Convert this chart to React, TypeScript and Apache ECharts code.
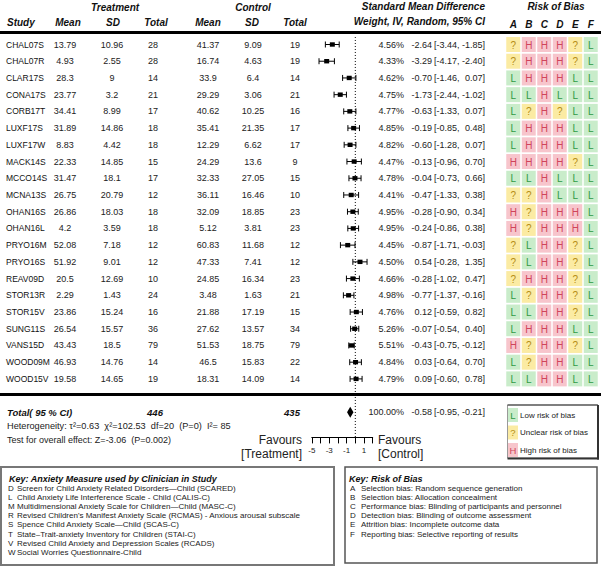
import React, { useEffect, useRef } from 'react';
import * as echarts from 'echarts';

const studies = ['CHAL07S','CHAL07R','CLAR17S','CONA17S','CORB17T','LUXF17S','LUXF17W','MACK14S','MCCO14S','MCNA13S','OHAN16S','OHAN16L','PRYO16M','PRYO16S','REAV09D','STOR13R','STOR15V','SUNG11S','VANS15D','WOOD09M','WOOD15V'];
const treatMean = [13.79,4.93,28.3,23.77,34.41,31.89,8.83,22.33,31.47,26.75,26.86,4.2,52.08,51.92,20.5,2.29,23.86,26.54,43.43,46.93,19.58];
const treatSD = [10.96,2.55,9,3.2,8.99,14.86,4.42,14.85,18.1,20.79,18.03,3.59,7.18,9.01,12.69,1.43,15.24,15.57,18.5,14.76,14.65];
const treatN = [28,28,14,21,17,18,18,15,17,12,18,18,12,12,10,24,16,36,79,14,19];
const ctrlMean = [41.37,16.74,33.9,29.29,40.62,35.41,12.29,24.29,32.33,36.11,32.09,5.12,60.83,47.33,24.85,3.48,21.88,27.62,51.53,46.5,18.31];
const ctrlSD = [9.09,4.63,6.4,3.06,10.25,21.35,6.62,13.6,27.05,16.46,18.85,3.81,11.68,7.41,16.34,1.63,17.19,13.57,18.75,15.83,14.09];
const ctrlN = [19,19,14,21,16,17,17,9,15,10,23,23,12,12,23,21,15,34,79,22,14];
const weights = [4.56,4.33,4.62,4.75,4.77,4.85,4.82,4.47,4.78,4.41,4.95,4.95,4.45,4.50,4.66,4.98,4.76,5.26,5.51,4.84,4.79];
const smd = [-2.64,-3.29,-0.70,-1.73,-0.63,-0.19,-0.60,-0.13,-0.04,-0.47,-0.28,-0.24,-0.87,0.54,-0.28,-0.77,0.12,-0.07,-0.43,0.03,0.09];
const ciLow = [-3.44,-4.17,-1.46,-2.44,-1.33,-0.85,-1.28,-0.96,-0.73,-1.33,-0.90,-0.86,-1.71,-0.28,-1.02,-1.37,-0.59,-0.54,-0.75,-0.64,-0.60];
const ciHigh = [-1.85,-2.40,0.07,-1.02,0.07,0.48,0.07,0.70,0.66,0.38,0.34,0.38,-0.03,1.35,0.47,-0.16,0.82,0.40,-0.12,0.70,0.78];
const riskOfBias = ['?HHH?L','?HHH?L','LHHHLL','LLHLLL','L?H?LL','LHHHLL','LHHHLL','HHHH?L','LLHLLL','??HLLL','H?HHHL','H?HHHL','?LHH?L','?LHH?L','?HHH?L','L?HH?L','LLHH?L','LHHHLL','H?HH?L','L?HHLL','LLHHLL'];
const biasDomains = ['A','B','C','D','E','F'];
const riskCodes = ['L','?','H'];
const riskLabels = ['Low risk of bias','Unclear risk of bias','High risk of bias'];
const totalTreatN = 446;
const totalCtrlN = 435;
const totalWeight = 100;
const pooledEst = -0.58;
const pooledLow = -0.95;
const pooledHigh = -0.21;
const heterogeneityText = 'Heterogeneity: τ²=0.63  χ²=102.53  df=20  (P=0)  I²= 85';
const overallText = 'Test for overall effect: Z=-3.06  (P=0.002)';
const anxietyKeyLetters = ['D','L','M','R','S','T','V','W'];
const anxietyKey = [
  'Screen for Child Anxiety Related Disorders—Child (SCARED)',
  'Child Anxiety Life Interference Scale - Child (CALIS-C)',
  'Multidimensional Anxiety Scale for Children—Child (MASC-C)',
  "Revised Children's Manifest Anxiety Scale (RCMAS) - Anxious arousal subscale",
  'Spence Child Anxiety Scale—Child (SCAS-C)',
  'State–Trait-anxiety Inventory for Children (STAI-C)',
  'Revised Child Anxiety and Depression Scales (RCADS)',
  'Social Worries Questionnaire-Child',
];
const biasKey = [
  'Selection bias: Random sequence generation',
  'Selection bias: Allocation concealment',
  'Performance bias: Blinding of participants and personnel',
  'Detection bias: Blinding of outcome assessment',
  'Attrition bias: Incomplete outcome data',
  'Reporting bias: Selective reporting of results',
];

const FONT = '"Liberation Sans", Arial, Helvetica, sans-serif';
const ROW0 = 44.5;
const ROWH = 16.72;
const YMIN = -0.45;
const YMAX = 23.5;
const TOTAL_ROW = 22;
const rowY = (i: number) => ROW0 + i * ROWH;
const GRID_TOP = ROW0 + YMIN * ROWH;
const GRID_H = (YMAX - YMIN) * ROWH;

const riskBg: Record<string, string> = { L: '#c9ecca', '?': '#fbeba3', H: '#f7c5cc' };
const riskFg: Record<string, string> = { L: '#2f9a44', '?': '#b48d14', H: '#d0445b' };

function txt(x: number, y: number, text: string, o: any = {}) {
  const align = o.align || 'left';
  const valign = o.valign || 'middle';
  return {
    type: 'text', x, y, silent: true,
    style: {
      text, fontFamily: FONT, fontSize: o.size || 9, fill: o.color || '#222',
      fontWeight: o.bold ? 'bold' : 'normal', fontStyle: o.italic ? 'italic' : 'normal',
      align, textAlign: align, verticalAlign: valign, textVerticalAlign: valign,
    },
  };
}
function hline(x1: number, x2: number, y: number, w: number, c = '#000') {
  return { type: 'line', silent: true, shape: { x1, y1: y, x2, y2: y }, style: { stroke: c, lineWidth: w } };
}
function vline(x: number, y1: number, y2: number, w: number, c = '#000') {
  return { type: 'line', silent: true, shape: { x1: x, y1, x2: x, y2 }, style: { stroke: c, lineWidth: w } };
}

function buildGraphics() {
  const g: any[] = [];
  const hb = { bold: true, italic: true, size: 10, color: '#111' };
  // headers
  g.push(txt(115, 7, 'Treatment', { ...hb, align: 'center' }));
  g.push(txt(253, 7, 'Control', { ...hb, align: 'center' }));
  g.push(txt(485, 6, 'Standard Mean Difference', { ...hb, align: 'right' }));
  g.push(txt(556, 6, 'Risk of Bias', { ...hb, align: 'center' }));
  g.push(txt(7, 22, 'Study', hb));
  g.push(txt(68, 22, 'Mean', { ...hb, align: 'center' }));
  g.push(txt(113, 22, 'SD', { ...hb, align: 'center' }));
  g.push(txt(156, 22, 'Total', { ...hb, align: 'center' }));
  g.push(txt(208, 22, 'Mean', { ...hb, align: 'center' }));
  g.push(txt(252, 22, 'SD', { ...hb, align: 'center' }));
  g.push(txt(295, 22, 'Total', { ...hb, align: 'center' }));
  g.push(txt(485, 21, 'Weight, IV, Random, 95% CI', { ...hb, align: 'right' }));
  g.push(hline(0, 601, 32.5, 3));
  g.push(hline(0, 601, 394.5, 3));
  // rows
  studies.forEach((s, i) => {
    const y = rowY(i);
    g.push(txt(6, y, s, { color: '#111', size: 8.5 }));
    g.push(txt(65, y, String(treatMean[i]), { align: 'center' }));
    g.push(txt(112, y, String(treatSD[i]), { align: 'center' }));
    g.push(txt(153, y, String(treatN[i]), { align: 'center' }));
    g.push(txt(208, y, String(ctrlMean[i]), { align: 'center' }));
    g.push(txt(253, y, String(ctrlSD[i]), { align: 'center' }));
    g.push(txt(295, y, String(ctrlN[i]), { align: 'center' }));
    g.push(txt(404, y, weights[i].toFixed(2) + '%', { align: 'right' }));
    g.push(txt(432, y, smd[i].toFixed(2), { align: 'right' }));
    g.push(txt(434, y, '[' + ciLow[i].toFixed(2) + ',', {}));
    g.push(txt(485, y, ciHigh[i].toFixed(2) + ']', { align: 'right' }));
  });
  // total row
  const ty = rowY(TOTAL_ROW);
  g.push(txt(7, ty, 'Total( 95 % CI)', { bold: true, italic: true, size: 9.5, color: '#111' }));
  g.push(txt(155, ty, String(totalTreatN), { bold: true, italic: true, size: 9.5, color: '#111', align: 'center' }));
  g.push(txt(292, ty, String(totalCtrlN), { bold: true, italic: true, size: 9.5, color: '#111', align: 'center' }));
  g.push(txt(404, ty, totalWeight.toFixed(2) + '%', { align: 'right' }));
  g.push(txt(432, ty, pooledEst.toFixed(2), { align: 'right' }));
  g.push(txt(434, ty, '[' + pooledLow.toFixed(2) + ',', {}));
  g.push(txt(485, ty, pooledHigh.toFixed(2) + ']', { align: 'right' }));
  g.push(txt(7, 426, heterogeneityText, { size: 9.2 }));
  g.push(txt(7, 440, overallText, {}));
  g.push(txt(302, 440, 'Favours', { size: 12, align: 'right' }));
  g.push(txt(302, 453.5, '[Treatment]', { size: 12, align: 'right' }));
  g.push(txt(378, 440, 'Favours', { size: 12 }));
  g.push(txt(378, 453.5, '[Control]', { size: 12 }));
  // risk legend box
  g.push({ type: 'rect', silent: true, shape: { x: 507.5, y: 405, width: 90, height: 53 }, style: { fill: '#fff', stroke: '#999', lineWidth: 1 } });
  g.push(vline(598, 405, 459.5, 2, '#333'));
  g.push(hline(507.5, 599, 458.5, 2, '#333'));
  g.push(hline(507.5, 598, 405, 1.2, '#333'));
  riskCodes.forEach((c, k) => {
    const y = 415 + k * 17.5;
    g.push({ type: 'rect', silent: true, shape: { x: 508, y: y - 7, width: 10, height: 14 }, style: { fill: riskBg[c] } });
    g.push(txt(513, y, c, { align: 'center', size: 9.5, color: riskFg[c] }));
    g.push(txt(520, y, riskLabels[k], { size: 8 }));
  });
  // key boxes
  g.push({ type: 'rect', silent: true, shape: { x: 1, y: 467, width: 333, height: 98 }, style: { fill: 'none', stroke: '#777', lineWidth: 2 } });
  g.push(txt(9, 479, 'Key: Anxiety Measure used by Clinician in Study', { bold: true, italic: true, size: 9, color: '#111' }));
  anxietyKeyLetters.forEach((l, k) => {
    const y = 488.5 + k * 9.1;
    g.push(txt(8, y, l, { size: 8 }));
    g.push(txt(17, y, anxietyKey[k], { size: 8 }));
  });
  g.push({ type: 'rect', silent: true, shape: { x: 345, y: 467, width: 252, height: 96 }, style: { fill: 'none', stroke: '#555', lineWidth: 1.5 } });
  g.push(txt(349, 479, 'Key: Risk of Bias', { bold: true, italic: true, size: 9, color: '#111' }));
  biasDomains.forEach((l, k) => {
    const y = 488.5 + k * 9.1;
    g.push(txt(350, y, l, { size: 8 }));
    g.push(txt(361, y, biasKey[k], { size: 8 }));
  });
  return g;
}

export default function App() {
  const ref = useRef<HTMLDivElement>(null);
  useEffect(() => {
    document.body.style.margin = '0';
    if (!ref.current) return;
    const chart = echarts.init(ref.current, undefined, { renderer: 'svg' });
    const forestData = studies.map((_, i) => [smd[i], i, ciLow[i], ciHigh[i]]);
    const riskData: number[][] = [];
    riskOfBias.forEach((r, i) => {
      r.split('').forEach((c, j) => riskData.push([j, i, riskCodes.indexOf(c)]));
    });
    const yAx = (gi: number) => ({ type: 'value', gridIndex: gi, inverse: true, min: YMIN, max: YMAX, show: false });
    chart.setOption({
      animation: false,
      backgroundColor: '#fff',
      grid: [
        { left: 311.8, top: GRID_TOP, width: 60.9, height: GRID_H },
        { left: 505.5, top: GRID_TOP, width: 93, height: GRID_H },
      ],
      xAxis: [
        {
          type: 'value', gridIndex: 0, min: -5, max: 2, interval: 1, position: 'bottom',
          axisLine: { show: true, onZero: false, lineStyle: { color: '#000', width: 1 } },
          axisTick: { show: true, length: 6, lineStyle: { color: '#000' } },
          splitLine: { show: false },
          axisLabel: {
            margin: 9, fontSize: 8, color: '#222', fontFamily: FONT,
            formatter: (v: number) => (Math.abs(v % 2) === 1 ? String(v) : ''),
          },
        },
        {
          type: 'category', gridIndex: 1, data: biasDomains, position: 'top',
          axisLine: { show: false }, axisTick: { show: false },
          axisLabel: { margin: 7, fontSize: 10, fontWeight: 'bold', fontStyle: 'italic', color: '#111', fontFamily: FONT },
        },
      ],
      yAxis: [yAx(0), yAx(1)],
      series: [
        {
          type: 'line', xAxisIndex: 0, yAxisIndex: 0, silent: true, symbol: 'none',
          data: [[0, YMIN], [0, YMAX]],
          lineStyle: { color: '#000', width: 1, type: [1, 2] },
        },
        {
          type: 'custom', xAxisIndex: 0, yAxisIndex: 0, silent: true,
          encode: { x: 0, y: 1 },
          data: forestData,
          renderItem: (_p: any, api: any) => {
            const r = api.value(1);
            const pe = api.coord([api.value(0), r]);
            const pl = api.coord([api.value(2), r]);
            const ph = api.coord([api.value(3), r]);
            const st = { stroke: '#000', lineWidth: 1 };
            return {
              type: 'group',
              children: [
                { type: 'line', shape: { x1: pl[0], y1: pl[1], x2: ph[0], y2: ph[1] }, style: st },
                { type: 'line', shape: { x1: pl[0], y1: pl[1] - 3, x2: pl[0], y2: pl[1] + 3 }, style: st },
                { type: 'line', shape: { x1: ph[0], y1: ph[1] - 3, x2: ph[0], y2: ph[1] + 3 }, style: st },
                { type: 'rect', shape: { x: pe[0] - 2.5, y: pe[1] - 2.2, width: 5, height: 4.4 }, style: { fill: '#000' } },
              ],
            };
          },
        },
        {
          type: 'custom', xAxisIndex: 0, yAxisIndex: 0, silent: true,
          encode: { x: 0, y: 1 },
          data: [[pooledEst, TOTAL_ROW, pooledLow, pooledHigh]],
          renderItem: (_p: any, api: any) => {
            const r = api.value(1);
            const pe = api.coord([api.value(0), r]);
            const pl = api.coord([api.value(2), r]);
            const ph = api.coord([api.value(3), r]);
            return {
              type: 'polygon',
              shape: { points: [[pl[0], pl[1]], [pe[0], pe[1] - 5.5], [ph[0], ph[1]], [pe[0], pe[1] + 5.5]] },
              style: { fill: '#000' },
            };
          },
        },
        {
          type: 'custom', xAxisIndex: 1, yAxisIndex: 1, silent: true,
          encode: { x: 0, y: 1 },
          data: riskData,
          renderItem: (_p: any, api: any) => {
            const c = riskCodes[api.value(2)];
            const p = api.coord([api.value(0), api.value(1)]);
            const w = 14, h = 15;
            return {
              type: 'group',
              children: [
                { type: 'rect', shape: { x: p[0] - w / 2, y: p[1] - h / 2, width: w, height: h }, style: { fill: riskBg[c] } },
                { type: 'text', x: p[0], y: p[1] + 0.5, style: { text: c, fontFamily: FONT, fontSize: 10, fill: riskFg[c], align: 'center', verticalAlign: 'middle', textAlign: 'center', textVerticalAlign: 'middle' } },
              ],
            };
          },
        },
      ],
      graphic: { elements: buildGraphics() },
    });
    return () => chart.dispose();
  }, []);
  return <div ref={ref} style={{ position: 'absolute', left: 0, top: 0, width: 601, height: 568 }} />;
}
